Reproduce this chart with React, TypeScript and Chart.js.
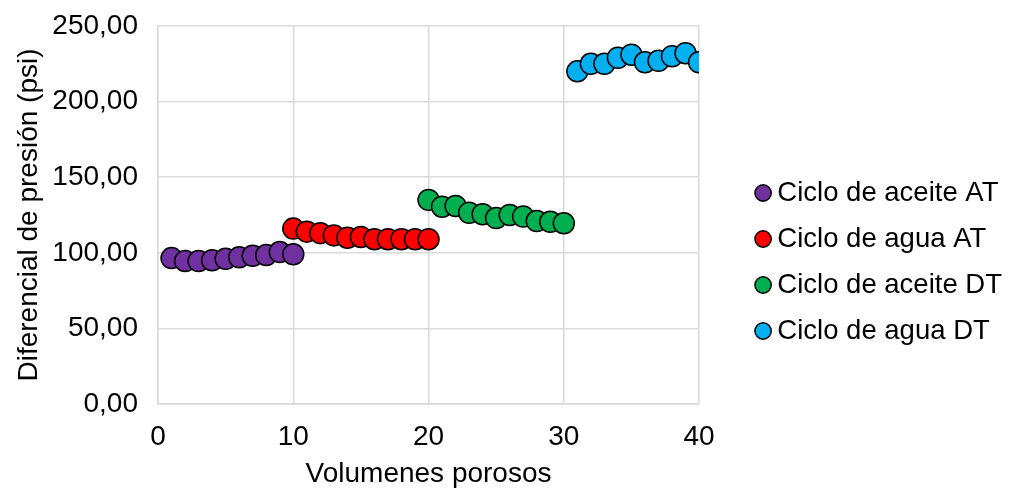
import React, { useEffect, useRef } from "react";
import { Chart, registerables } from "chart.js";

Chart.register(...registerables);

const seriesNames = [
  "Ciclo de aceite AT",
  "Ciclo de agua AT",
  "Ciclo de aceite DT",
  "Ciclo de agua DT",
];
const aceiteATx = [1, 2, 3, 4, 5, 6, 7, 8, 9, 10];
const aceiteATy = [96.5, 94.5, 94.5, 95, 96, 97, 98, 98.5, 100.5, 99];
const aguaATx = [10, 11, 12, 13, 14, 15, 16, 17, 18, 19, 20];
const aguaATy = [116, 114, 113, 111.5, 110, 110.5, 109, 109, 109, 109, 109];
const aceiteDTx = [20, 21, 22, 23, 24, 25, 26, 27, 28, 29, 30];
const aceiteDTy = [135, 130.5, 131, 126.5, 125.5, 123, 125, 124, 121, 120.5, 119.5];
const aguaDTx = [31, 32, 33, 34, 35, 36, 37, 38, 39, 40];
const aguaDTy = [220, 225, 225, 229, 231, 226, 227, 230, 232, 226];
const colors = ["#7030A0", "#FF0000", "#00B050", "#00B0F0"];

const xTitle = "Volumenes porosos";
const yTitle = "Diferencial de presión (psi)";

function pts(xs: number[], ys: number[]) {
  return xs.map((x, i) => ({ x, y: ys[i] }));
}

export default function App() {
  const ref = useRef<HTMLCanvasElement>(null);
  useEffect(() => {
    if (!ref.current) return;
    const font = "'Liberation Sans', Arial, sans-serif";
    const allX = [aceiteATx, aguaATx, aceiteDTx, aguaDTx];
    const allY = [aceiteATy, aguaATy, aceiteDTy, aguaDTy];
    const chart = new Chart(ref.current, {
      type: "scatter",
      data: {
        datasets: seriesNames.map((name, i) => ({
          label: name,
          data: pts(allX[i], allY[i]),
          backgroundColor: colors[i],
          borderColor: "#000000",
          borderWidth: 1.5,
          pointRadius: 10.5,
          pointHoverRadius: 10.5,
        })),
      },
      options: {
        animation: false,
        responsive: false,
        maintainAspectRatio: false,
        layout: { padding: { top: 26, right: 3, left: 12, bottom: -7 } },
        plugins: {
          tooltip: { enabled: false },
          legend: {
            position: "right",
            maxWidth: 400,
            labels: {
              usePointStyle: true,
              pointStyle: "circle",
              boxWidth: 1,
              boxHeight: 11.5,
              padding: 18.5,
              color: "#000000",
              font: { family: font, size: 27.5 },
            },
          },
        },
        scales: {
          x: {
            type: "linear",
            min: 0,
            max: 40,
            afterFit: (s: any) => {
              s.height = 94;
              s.paddingTop = 0;
              s.paddingBottom = 0;
            },
            ticks: {
              stepSize: 10,
              color: "#000000",
              padding: 16,
              font: { family: font, size: 28 },
            },
            grid: { color: "#d9d9d9", lineWidth: 1.5, drawTicks: false },
            border: { color: "#d9d9d9", width: 1.5 },
            title: {
              display: true,
              text: xTitle,
              color: "#000000",
              font: { family: font, size: 28 },
              padding: { top: 4, bottom: 7 },
            },
          },
          y: {
            min: 0,
            max: 250,
            afterFit: (s: any) => {
              s.width = 146;
              s.paddingTop = 0;
              s.paddingBottom = 0;
            },
            ticks: {
              stepSize: 50,
              color: "#000000",
              padding: 20,
              font: { family: font, size: 28 },
              callback: (v: any) => Number(v).toFixed(2).replace(".", ","),
            },
            grid: { color: "#d9d9d9", lineWidth: 1.5, drawTicks: false },
            border: { color: "#d9d9d9", width: 1.5 },
            title: {
              display: true,
              text: yTitle,
              color: "#000000",
              font: { family: font, size: 28 },
              padding: { top: 0, bottom: 4 },
            },
          },
          gap: {
            type: "linear",
            position: "right",
            display: true,
            afterFit: (s: any) => {
              s.width = 45;
              s.paddingTop = 0;
              s.paddingBottom = 0;
            },
            ticks: { display: false },
            grid: { display: false, drawTicks: false },
            border: { display: false },
          },
        },
      },
    });
    return () => chart.destroy();
  }, []);
  return (
    <div style={{ position: "fixed", left: 0, top: 0, width: 1015, height: 491, background: "#fff" }}>
      <canvas ref={ref} width={1015} height={491} />
    </div>
  );
}
